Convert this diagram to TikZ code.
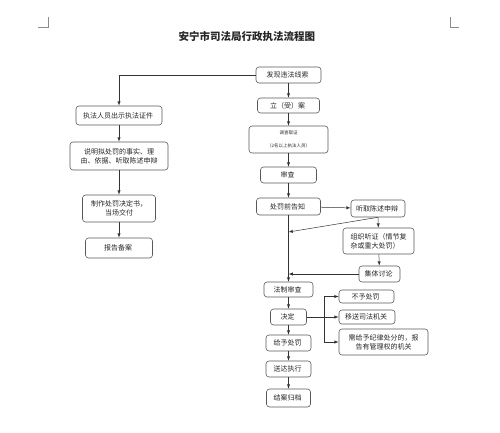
\documentclass[tikz,border=0pt]{standalone}
\usepackage{fontspec}
\setmainfont{Noto Sans CJK SC}
\usetikzlibrary{arrows,positioning}
\usepackage{xcolor}

\begin{document}
\begin{tikzpicture}[x=1pt, y=-1pt, >=latex, every node/.style={
    rectangle,
    rounded corners=3pt,
    inner sep=0pt,
    draw=black!65,
    line width=0.6pt,
    text=black!85,
    align=center,
    font=\fontsize{7}{9}\selectfont
}]
    \useasboundingbox (0,0) rectangle (500,433);

    %page marks
    \draw[black!45, line width=0.4pt] (38,27) -- (48,27) -- (48,17);
    \draw[black!45, line width=0.4pt] (459,27) -- (450,27) -- (450,17);

    %title
    \node (title) [draw=none, shift={(248,36)}, font=\fontsize{10.5}{12}\selectfont\bfseries]
    {
        安宁市司法局行政执法流程图
    };

    %main
    \node (faxian) [minimum width=65pt, minimum height=16pt, shift={(288.5,75)}]
    {
        发现违法线索
    };
    \node (lian) [minimum width=62pt, minimum height=15pt, shift={(288.5,105.5)}]
    {
        立（受）案
    };
    \node (diaocha) [minimum width=79pt, minimum height=27pt, shift={(288.5,139.5)},
        font=\fontsize{4.5}{13}\selectfont]
    {
        调查取证\\（2名以上执法人员）
    };
    \node (shencha) [minimum width=56pt, minimum height=16pt, shift={(288.5,175)}]
    {
        审查
    };
    \node (gaozhi) [minimum width=64pt, minimum height=17pt, shift={(288.5,206.5)}]
    {
        处罚前告知
    };
    \node (fazhi) [minimum width=49pt, minimum height=15pt, shift={(288.5,289.5)}]
    {
        法制审查
    };
    \node (jueding) [minimum width=36pt, minimum height=16pt, shift={(288.5,317)}]
    {
        决定
    };
    \node (jiyu) [minimum width=45pt, minimum height=16pt, shift={(288.5,343)}]
    {
        给予处罚
    };
    \node (songda) [minimum width=45pt, minimum height=16pt, shift={(288.5,369)}]
    {
        送达执行
    };
    \node (jiean) [minimum width=44pt, minimum height=18pt, shift={(288.5,398)}]
    {
        结案归档
    };

    %hearing
    \node (tingqu) [minimum width=54pt, minimum height=17pt, shift={(378,208.5)}]
    {
        听取陈述申辩
    };
    \node (tingzheng) [minimum width=71pt, minimum height=26pt, shift={(378.5,241)}, align=left]
    {
        组织听证（情节复\\杂或重大处罚）
    };
    \node (jiti) [minimum width=41pt, minimum height=16pt, shift={(379.5,274)}]
    {
        集体讨论
    };
    \coordinate (hear_in) at (288.5,232);
    \coordinate (jiti_in) at (288.5,274);

    %decision
    \node (buyu) [minimum width=55pt, minimum height=13pt, shift={(366.5,296.5)}]
    {
        不予处罚
    };
    \node (yisong) [minimum width=56pt, minimum height=14pt, shift={(367,317)}]
    {
        移送司法机关
    };
    \node (jilv) [minimum width=89pt, minimum height=26pt, shift={(383.5,342)}]
    {
        需给予纪律处分的，报\\告有管理权的机关
    };
    \coordinate (branch) at (324,317);

    %on the spot
    \node (zhengjian) [minimum width=86pt, minimum height=19pt, shift={(119,115.5)}]
    {
        执法人员出示执法证件
    };
    \node (shuoming) [minimum width=98pt, minimum height=28pt, shift={(119,156)}]
    {
        说明拟处罚的事实、理\\由、依据、听取陈述申辩
    };
    \node (zhizuo) [minimum width=73pt, minimum height=27pt, shift={(119,208.5)}]
    {
        制作处罚决定书，\\当场交付
    };
    \node (baogao) [minimum width=67pt, minimum height=20pt, shift={(119,248)}]
    {
        报告备案
    };

    %main
    \draw[->, black!80, line width=0.5pt] (faxian) to (lian);
    \draw[->, black!80, line width=0.5pt] (lian) to (diaocha);
    \draw[->, black!80, line width=0.5pt] (diaocha) to (shencha);
    \draw[->, black!80, line width=0.5pt] (shencha) to (gaozhi);
    \draw[->, black!80, line width=0.5pt] (gaozhi) to (fazhi);
    \draw[->, black!80, line width=0.5pt] (fazhi) to (jueding);
    \draw[->, black!80, line width=0.5pt] (jueding) to (jiyu);
    \draw[->, black!80, line width=0.5pt] (jiyu) to (songda);
    \draw[->, black!80, line width=0.5pt] (songda) to (jiean);

    %hearing
    \draw[->, black!80, line width=0.5pt] (gaozhi) to (tingqu);
    \draw[->, black!80, line width=0.5pt] (tingqu) to (tingzheng);
    \draw[->, black!80, line width=0.5pt] (tingqu.south) to (hear_in);
    \draw[->, black!80, line width=0.5pt] (tingzheng) to (jiti);
    \draw[->, black!80, line width=0.5pt] (jiti) to (jiti_in);

    %decision
    \draw[->, black!80, line width=0.5pt] (jueding) to (yisong);
    \draw[->, black!80, line width=0.5pt] (branch) |- (buyu);
    \draw[->, black!80, line width=0.5pt] (branch) |- (jilv);

    %on the spot
    \draw[->, black!80, line width=0.5pt] (faxian.west) -| (zhengjian);
    \draw[->, black!80, line width=0.5pt] (zhengjian) to (shuoming);
    \draw[->, black!80, line width=0.5pt] (shuoming) to (zhizuo);
    \draw[->, black!80, line width=0.5pt] (zhizuo) to (baogao);

\end{tikzpicture}
\end{document}
